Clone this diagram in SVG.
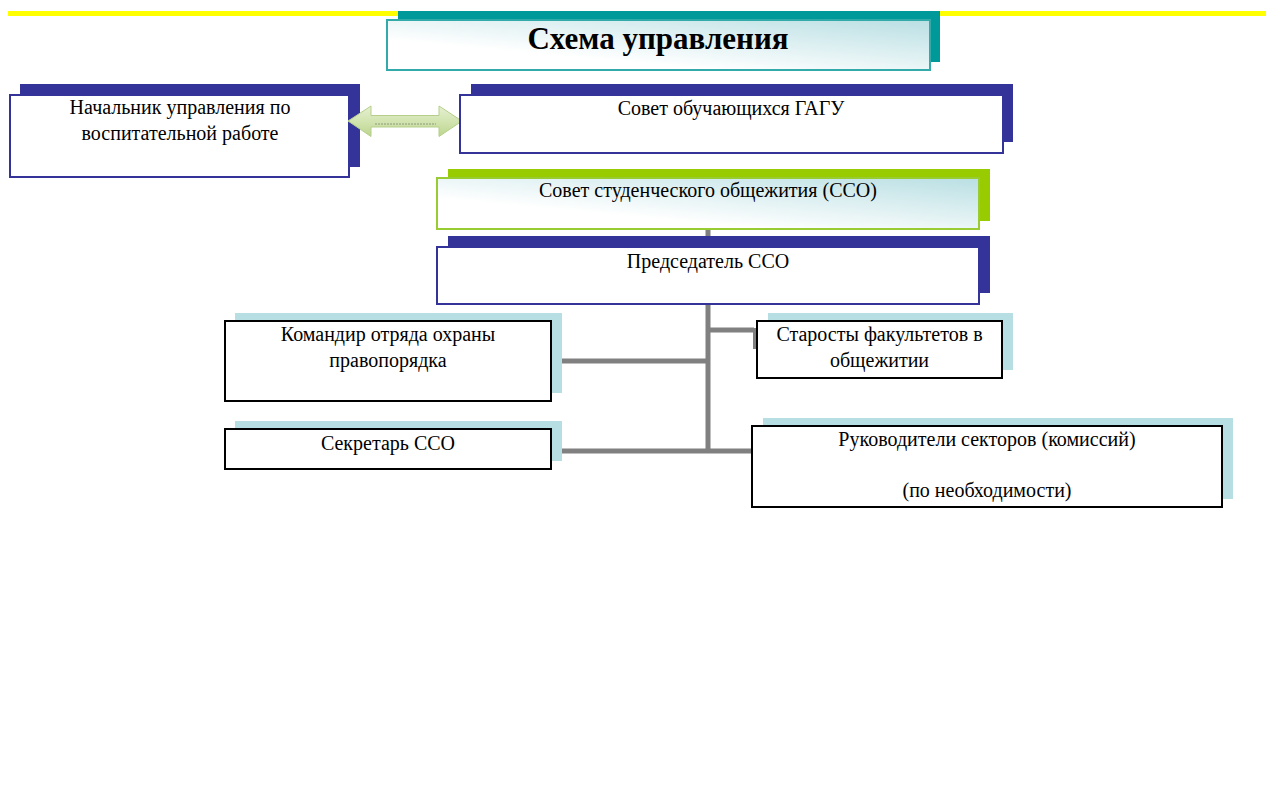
<svg xmlns="http://www.w3.org/2000/svg" width="1268" height="807" viewBox="0 0 1268 807">
<defs>
<linearGradient id="gCyan" x1="0" y1="1" x2="1" y2="0">
<stop offset="0.3" stop-color="#ffffff"/>
<stop offset="1" stop-color="#b9dfe3"/>
</linearGradient>
<linearGradient id="gArrow" x1="0" y1="0" x2="0" y2="1">
<stop offset="0" stop-color="#e6f0d2"/>
<stop offset="0.5" stop-color="#d2e4b0"/>
<stop offset="1" stop-color="#bcd58e"/>
</linearGradient>
</defs>
<style>
.t{font-family:"Liberation Serif","Times New Roman",serif;font-size:20px;fill:#000;text-anchor:middle}
.title{font-family:"Liberation Serif","Times New Roman",serif;font-size:31px;font-weight:bold;fill:#000;text-anchor:middle}
.navy{fill:#333399}
.teal{fill:#009999}
.green{fill:#99cc00}
.lb{fill:#b7dfe3}
.bn{fill:#fff;stroke:#333399;stroke-width:2}
.bk{fill:#fff;stroke:#000;stroke-width:2}
.conn{fill:none;stroke:#808080;stroke-width:5}
</style>
<rect x="8" y="11" width="1258" height="5" fill="#ffff00"/>
<g id="connectors">
<path class="conn" d="M708,229 V453"/>
<path class="conn" d="M708,330 H754"/>
<path d="M754.5,328 V349" fill="none" stroke="#808080" stroke-width="3"/>
<path class="conn" d="M551,361 H708"/>
<path class="conn" d="M551,451 H752"/>
</g>
<g id="title">
<rect class="teal" x="398" y="11" width="542" height="51"/>
<rect x="387" y="20" width="543" height="50" fill="url(#gCyan)" stroke="#33aaaa" stroke-width="2"/>
<text class="title" x="658" y="49">Схема управления</text>
</g>
<g id="n-nachalnik">
<rect class="navy" x="20" y="84" width="340" height="83"/>
<rect class="bn" x="10" y="95" width="339" height="82"/>
<text class="t" x="180" y="114">Начальник управления по</text>
<text class="t" x="180" y="140">воспитательной работе</text>
</g>
<g id="arrow">
<path d="M348,121 L371,106 V115.5 H439 V106 L462,121 L439,136.5 V127 H371 V136.5 Z" fill="url(#gArrow)" stroke="#b5cf8a" stroke-width="1"/>
<path d="M375,124 H436" stroke="#8a9a78" stroke-width="1" stroke-dasharray="2,1" fill="none"/>
</g>
<g id="n-sovet-gagu">
<rect class="navy" x="471" y="84" width="542" height="58"/>
<rect class="bn" x="460" y="95" width="543" height="58"/>
<text class="t" x="731" y="115">Совет обучающихся ГАГУ</text>
</g>
<g id="n-sso">
<rect class="green" x="448" y="169" width="542" height="52"/>
<rect x="437" y="178" width="542" height="51" fill="url(#gCyan)" stroke="#99cc33" stroke-width="2"/>
<text class="t" x="708" y="197">Совет студенческого общежития (ССО)</text>
</g>
<g id="n-predsedatel">
<rect class="navy" x="448" y="236" width="542" height="57"/>
<rect class="bn" x="437" y="247" width="542" height="57"/>
<text class="t" x="708" y="268">Председатель ССО</text>
</g>
<g id="n-komandir">
<rect class="lb" x="235" y="313" width="327" height="80"/>
<rect class="bk" x="225" y="321" width="326" height="80"/>
<text class="t" x="388" y="341">Командир отряда охраны</text>
<text class="t" x="388" y="367">правопорядка</text>
</g>
<g id="n-sekretar">
<rect class="lb" x="235" y="421" width="327" height="40"/>
<rect class="bk" x="225" y="429" width="326" height="40"/>
<text class="t" x="388" y="450">Секретарь ССО</text>
</g>
<g id="n-starosty">
<rect class="lb" x="768" y="313" width="245" height="57"/>
<rect class="bk" x="757" y="321" width="245" height="57"/>
<text class="t" x="879.5" y="341">Старосты факультетов в</text>
<text class="t" x="879.5" y="367">общежитии</text>
</g>
<g id="n-rukovoditeli">
<rect class="lb" x="763" y="418" width="470" height="81"/>
<rect class="bk" x="752" y="426" width="470" height="81"/>
<text class="t" x="987" y="446">Руководители секторов (комиссий)</text>
<text class="t" x="987" y="497">(по необходимости)</text>
</g>
</svg>
